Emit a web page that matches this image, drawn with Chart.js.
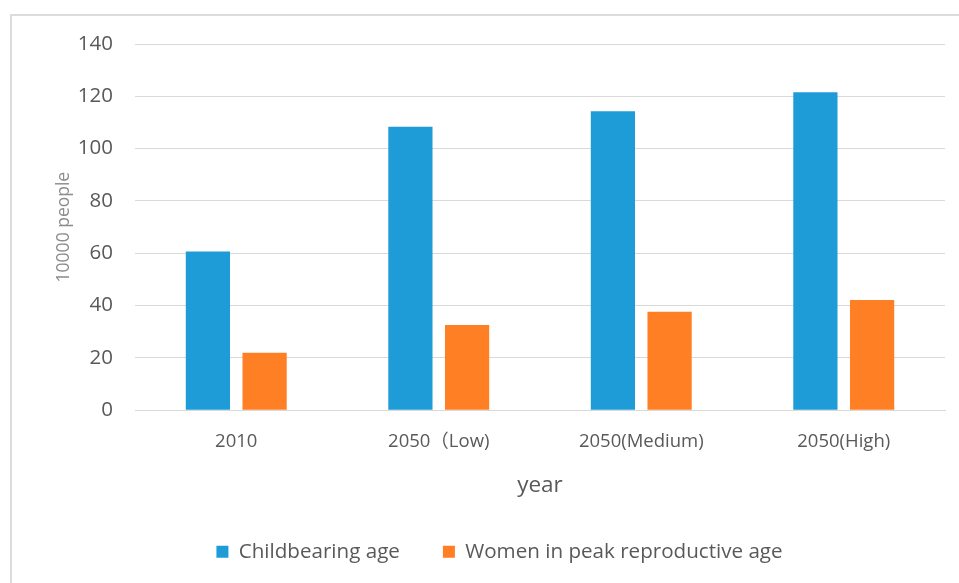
<!DOCTYPE html>
<html>
<head>
<meta charset="utf-8">
<script src="https://cdn.jsdelivr.net/npm/chart.js@4"></script>
<style>
  html, body { margin: 0; padding: 0; background: #fff; overflow: hidden; }
  #frame { position: absolute; left: 10px; top: 14px; width: 1000px; height: 620px; border: 2px solid #dcdcdc; }
  #wrap { position: absolute; left: 0; top: 0; width: 959px; height: 583px; }
</style>
</head>
<body>
<div id="frame"></div>
<div id="wrap"><canvas id="chart"></canvas></div>
<script>
const categories = ['2010', '2050（Low)', '2050(Medium)', '2050(High)'];
const childbearing = [60.7, 108.4, 114.3, 121.6];
const peakWomen = [22, 32.6, 37.6, 42.1];
const yTicks = [0, 20, 40, 60, 80, 100, 120, 140];

const font = "'Open Sans', 'Noto Sans CJK SC', sans-serif";

new Chart(document.getElementById('chart'), {
    type: 'bar',
    data: {
        labels: categories,
        datasets: [{
            label: 'Childbearing age',
            data: childbearing,
            backgroundColor: '#1E9CD8',
            barPercentage: 0.78,
            categoryPercentage: 0.56
        }, {
            label: 'Women in peak reproductive age',
            data: peakWomen,
            backgroundColor: '#FF7F24',
            barPercentage: 0.78,
            categoryPercentage: 0.56
        }]
    },
    options: {
        responsive: true,
        maintainAspectRatio: false,
        animation: false,
        layout: { padding: { left: 54, right: 14, top: 44, bottom: 11 } },
        plugins: {
            tooltip: { enabled: false },
            legend: {
                position: 'bottom',
                labels: {
                    color: '#595959',
                    font: { family: font, size: 20.6 },
                    boxWidth: 12,
                    boxHeight: 12,
                    padding: 43
                }
            }
        },
        scales: {
            x: {
                grid: { display: false, drawTicks: false },
                border: { color: '#d9d9d9', width: 1 },
                ticks: { color: '#595959', font: { family: font, size: 18.5 }, padding: 20 },
                title: { display: true, text: 'year', color: '#595959', font: { family: font, size: 22.5 }, padding: { top: 0, bottom: -1 } }
            },
            y: {
                min: 0,
                max: 140,
                afterBuildTicks: (scale) => { scale.ticks = yTicks.map(v => ({ value: v })); },
                afterFit: (scale) => { scale.width = 81; },
                grid: { color: '#d9d9d9', drawTicks: false },
                border: { display: false },
                ticks: { color: '#595959', font: { family: font, size: 20.5 }, padding: 22 },
                title: { display: true, text: '10000 people', color: '#8c8c8c', font: { family: font, size: 17.5 }, padding: { top: 0, bottom: 0 } }
            }
        }
    }
});
</script>
</body>
</html>
